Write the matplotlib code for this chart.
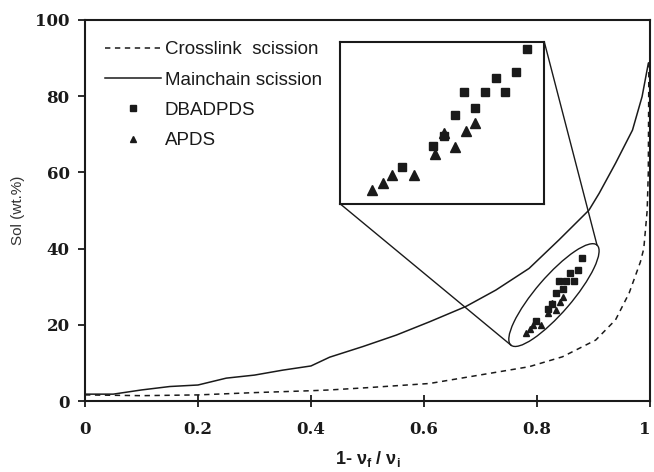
import numpy as np
import matplotlib
matplotlib.use('Agg')
from matplotlib import pyplot as plt
from matplotlib.patches import Ellipse
import matplotlib.transforms as mtransforms

# curves
cross_x = [0, 0.1, 0.2, 0.3, 0.4, 0.433, 0.5, 0.61, 0.698, 0.786, 0.845, 0.904, 0.939, 0.963,
           0.983, 0.989, 0.995, 0.997, 0.998]
cross_y = [1.6, 1.4, 1.6, 2.2, 2.7, 2.9, 3.5, 4.6, 6.8, 9.0, 11.6, 16.0, 21.3, 28.3,
           36.5, 40, 50, 60, 89]

main_x = [0, 0.05, 0.1, 0.15, 0.2, 0.25, 0.3, 0.35, 0.4, 0.433, 0.492, 0.551, 0.61, 0.674,
          0.727, 0.786, 0.839, 0.892, 0.91, 0.939, 0.969, 0.986, 0.997]
main_y = [1.8, 1.8, 2.9, 3.8, 4.2, 6.0, 6.8, 8.1, 9.2, 11.5, 14.3, 17.3, 20.8, 24.8,
          29.1, 34.8, 42.3, 50.1, 54.5, 62.4, 71.1, 79.9, 88.6]

dbad_x = [0.879, 0.872, 0.859, 0.839, 0.852, 0.865, 0.846, 0.833, 0.826, 0.819, 0.799]
dbad_y = [37.5, 34.4, 33.5, 31.5, 31.5, 31.5, 29.4, 28.4, 25.4, 24.1, 21.1]

apds_x = [0.780, 0.787, 0.793, 0.807, 0.820, 0.826, 0.833, 0.840, 0.846]
apds_y = [17.9, 18.9, 20.0, 20.0, 23.0, 25.8, 23.9, 26.1, 27.3]

xticks = [0, 0.2, 0.4, 0.6, 0.8, 1]
xtick_labels = ['0', '0.2', '0.4', '0.6', '0.8', '1']
yticks = [0, 20, 40, 60, 80, 100]

ink = '#1a1a1a'
tick_font = {'family': 'DejaVu Serif', 'weight': 'bold', 'size': 12}
plt.rcParams['font.family'] = 'Liberation Sans'
plt.rcParams['mathtext.fontset'] = 'custom'
plt.rcParams['mathtext.rm'] = 'Liberation Sans'
plt.rcParams['mathtext.bf'] = 'Liberation Sans:bold'

fig = plt.figure(figsize=(6.54, 4.72), dpi=100)
ax = fig.add_axes([85 / 654, 1 - 401 / 472, 565 / 654, 381 / 472])

ax.plot(cross_x, cross_y, color=ink, lw=1.1, ls=(0, (3.5, 3)), label='Crosslink  scission')
ax.plot(main_x, main_y, color=ink, lw=1.1, label='Mainchain scission')
ax.plot(dbad_x, dbad_y, ls='none', marker='s', ms=4.5, color=ink, label='DBADPDS')
ax.plot(apds_x, apds_y, ls='none', marker='^', ms=5, color=ink, label='APDS')

ax.set_xlim(0, 1)
ax.set_ylim(0, 100)
ax.set_xticks(xticks)
ax.set_xticklabels(xtick_labels, fontdict=tick_font)
ax.set_yticks(yticks)
ax.set_yticklabels([str(v) for v in yticks], fontdict=tick_font)
ax.tick_params(axis='x', direction='inout', length=9, width=1.3, pad=10, colors=ink)
ax.tick_params(axis='y', direction='out', length=5, width=1.3, pad=6, colors=ink)
for s in ax.spines.values():
    s.set_linewidth(1.5)
    s.set_color(ink)

# keep the last x label inside the picture
last = ax.get_xticklabels()[-1]
last.set_transform(last.get_transform() + mtransforms.ScaledTranslation(-4 / 72, 0, fig.dpi_scale_trans))

ax.set_xlabel(r'1- ν$_\mathbf{f}$ / ν$_\mathbf{i}$', fontsize=13, fontweight='bold',
              color=ink, labelpad=8)
ax.set_ylabel('Sol (wt.%)', fontsize=11, color='#333333')
ax.yaxis.set_label_coords(-0.106, 0.5)

leg = ax.legend(loc='upper left', bbox_to_anchor=(0.022, 0.964), frameon=False, fontsize=13.5,
                handlelength=3.0, handletextpad=0.2, labelspacing=0.7, borderaxespad=0)
for t in leg.get_texts():
    t.set_color(ink)

# magnified inset
inset_box = [0.452, 51.7, 0.361, 42.5]
axins = ax.inset_axes(inset_box, transform=ax.transData)
axins.plot(dbad_x, dbad_y, ls='none', marker='s', ms=6, color=ink)
axins.plot(apds_x, apds_y, ls='none', marker='^', ms=7, color=ink)
axins.set_xlim(0.76, 0.89)
axins.set_ylim(16, 38.5)
axins.set_xticks([])
axins.set_yticks([])
for s in axins.spines.values():
    s.set_linewidth(1.5)
    s.set_color(ink)

# ellipse round the points, drawn in inches around a data centre
cx, cy = 0.830, 27.8
ang = 49.3
half = 0.66
trans = fig.dpi_scale_trans + mtransforms.ScaledTranslation(cx, cy, ax.transData)
ax.add_patch(Ellipse((0, 0), 2 * half, 0.36, angle=ang, transform=trans,
                     fill=False, color=ink, lw=1.0))

# lines from inset corners to the ellipse tips
tip = np.array([half * np.cos(np.radians(ang)), half * np.sin(np.radians(ang))])
tr = ax.transData.inverted()
top_tip = tr.transform(trans.transform(tip))
bot_tip = tr.transform(trans.transform(-tip))
x0, y0, w, h = inset_box
ax.plot([x0 + w, top_tip[0]], [y0 + h, top_tip[1]], color=ink, lw=1.0)
ax.plot([x0, bot_tip[0]], [y0, bot_tip[1]], color=ink, lw=1.0)

fig.savefig('out.png', dpi=100)
